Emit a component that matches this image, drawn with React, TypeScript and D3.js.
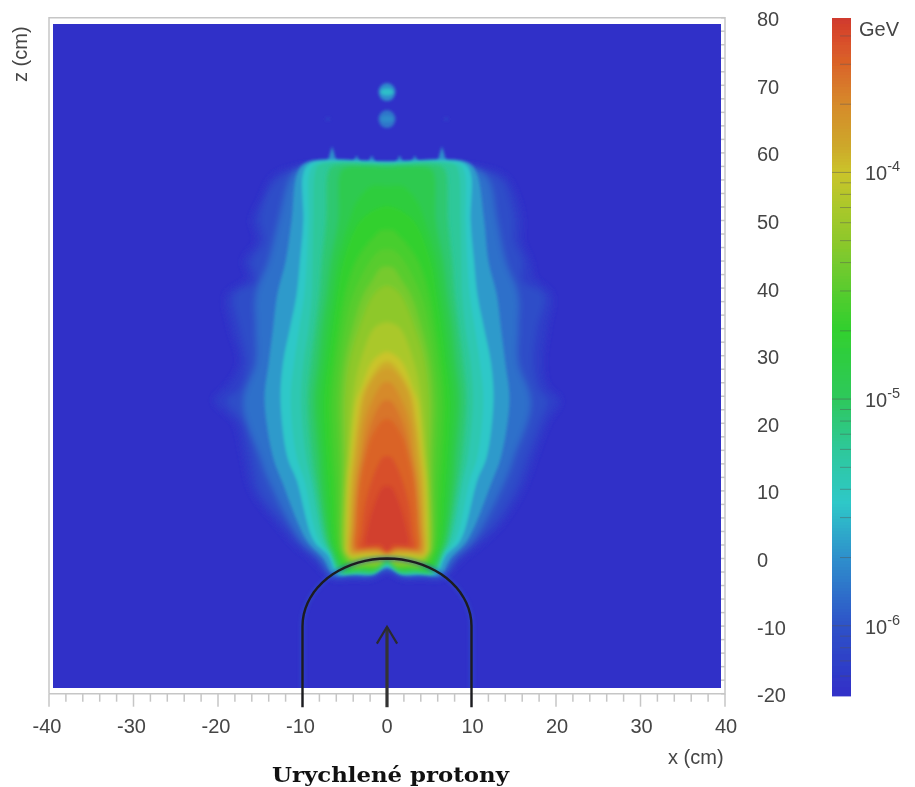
import React from "react";
import * as d3 from "d3";

// ---------- colour bar ----------
const cmapValues = [5e-7, 1e-6, 2e-6, 3.5e-6, 6e-6, 1e-5, 2e-5, 3e-5, 5e-5, 7e-5, 1e-4, 1.3e-4, 2e-4, 3e-4, 4e-4, 4.8e-4];
const cmapColors = ["#3030c8", "#2e52c8", "#2e90cc", "#2ec8c8", "#2ec89a", "#2ec85c", "#30d02e", "#58cc2e", "#8ec82c", "#aac82c", "#cbc42a", "#cda82a", "#d68a2c", "#da6428", "#d84a2a", "#cf3a2e"];
const colorDecades = [1e-6, 1e-5, 1e-4];
const colorMinors = [6e-7, 7e-7, 8e-7, 9e-7, 2e-6, 3e-6, 4e-6, 5e-6, 6e-6, 7e-6, 8e-6, 9e-6, 2e-5, 3e-5, 4e-5, 5e-5, 6e-5, 7e-5, 8e-5, 9e-5, 2e-4, 3e-4, 4e-4];

// ---------- axes ----------
const xTicks = [-40, -30, -20, -10, 0, 10, 20, 30, 40];
const zTicks = [-20, -10, 0, 10, 20, 30, 40, 50, 60, 70, 80];

// ---------- energy contours, [z, left half-width, right half-width] in cm ----------
type Row = [number, number, number];
const f0: Row[] = [[58, 10.5, 10.5], [56.5, 13.5, 14], [53, 15, 15.5], [50, 16, 16], [47, 15.5, 16], [44, 17, 17], [41.5, 16.5, 17.5], [39, 19, 19.5], [34, 18.5, 19], [29, 17.5, 18.5], [25.5, 19, 19], [23.4, 20.5, 20.5], [20, 18, 19], [15, 17, 17.5], [10, 16, 16], [5, 13, 13.5], [2, 11, 11], [0, 9, 9], [-3, 6.5, 6.5]];
const f1: Row[] = [[57.5, 10.5, 10.5], [56, 13, 13.5], [53, 14.5, 14.5], [50, 15, 15], [47, 14.5, 15], [44, 16, 16], [41, 15.5, 16], [39, 18, 18.5], [34, 17.4, 17.7], [29, 16.6, 17.3], [25, 17.5, 18], [23.4, 19, 19], [20, 17, 18], [15, 16, 16.5], [10, 15, 15], [5, 12, 12.5], [2, 10, 10], [0, 8, 8], [-2.6, 6.5, 6.5]];
const f2: Row[] = [[57.8, 10.3, 10.3], [56, 11.5, 12], [50, 12.8, 13], [44, 14, 14], [39, 15.5, 15.5], [34, 15.5, 15.5], [29, 15.5, 15.5], [23, 17, 17], [15, 15, 15], [11.6, 14, 14], [2.7, 10.2, 10.2], [0, 8, 8], [-2.5, 6.5, 6.5]];
const t1: Row[] = [[58.6, 9.5, 9.5], [57, 10.6, 10.6], [50, 11.3, 11.5], [44, 12, 12], [39, 13, 13], [34, 13.5, 13.5], [29, 14, 14], [23.4, 14.5, 14.5], [15, 13.5, 13.5], [11.6, 12.5, 12.5], [2.7, 9.5, 9.5], [0, 7.5, 7.5], [-2.4, 6.3, 6.3]];
const t2: Row[] = [[58.5, 9, 9], [57, 9.9, 9.9], [50, 9.9, 9.9], [44, 10.3, 10.3], [39, 10.7, 10.7], [34, 11.5, 11.5], [29, 12.3, 12.3], [23.4, 12.6, 12.6], [15, 11.8, 11.8], [11.6, 10.7, 10.7], [2.7, 8.7, 8.7], [0.5, 7, 7], [-2.3, 5.8, 5.8]];
const s0: Row[] = [[58.3, 8.6, 8.6], [57, 9.2, 9.2], [50, 9.3, 9.3], [44, 9.5, 9.5], [39, 9.8, 9.8], [34, 10.4, 10.4], [29, 11, 11], [23.4, 11.4, 11.4], [15, 10.7, 10.7], [11.6, 9.8, 9.8], [2.7, 8.1, 8.1], [0.5, 6.7, 6.7], [-2.2, 5.7, 5.7]];
const s1: Row[] = [[58.2, 8, 8], [57, 8.5, 8.5], [50, 8.7, 8.7], [44, 8.8, 8.8], [39, 8.9, 8.9], [34, 9.3, 9.3], [29, 9.9, 9.9], [23.4, 10.2, 10.2], [15, 9.6, 9.6], [11.6, 9, 9], [2.7, 7.5, 7.5], [0.5, 6.4, 6.4], [-2.1, 5.6, 5.6]];
const s2: Row[] = [[58, 6.5, 6.5], [57, 7, 7], [50, 7.2, 7.2], [44, 7.7, 7.7], [39, 8, 8], [34, 8.5, 8.5], [29, 9, 9], [23.4, 9.4, 9.4], [15, 8.9, 8.9], [11.6, 8.5, 8.5], [2.7, 7.2, 7.2], [1, 6.6, 6.6], [-2, 5.4, 5.4]];
const g0: Row[] = [[57.8, 5, 5], [57, 5.6, 5.6], [50, 5.8, 5.8], [44, 6.7, 6.7], [39, 7.2, 7.2], [34, 7.8, 7.8], [29, 8.2, 8.2], [23.4, 8.7, 8.7], [15, 8.2, 8.2], [11.6, 8, 8], [2.7, 7, 7], [1, 6.5, 6.5], [-0.5, 6, 6], [-1.9, 5.2, 5.2]];
const g05: Row[] = [[55, 2, 2], [53, 3.5, 3.5], [50, 4.5, 4.5], [44, 5.9, 5.9], [39, 6.5, 6.5], [34, 7.1, 7.1], [29, 7.6, 7.6], [23.4, 8.1, 8.1], [15, 7.7, 7.7], [11.6, 7.5, 7.5], [2.7, 6.7, 6.7], [1, 6.2, 6.2], [-1.7, 4.9, 4.9]];
const g1: Row[] = [[52, 0.8, 0.8], [50, 3.2, 3.2], [44, 5.2, 5.2], [39, 5.9, 5.9], [34, 6.5, 6.5], [29, 7, 7], [23.4, 7.5, 7.5], [15, 7.2, 7.2], [11.6, 7, 7], [2.7, 6.4, 6.4], [1, 6, 6], [-0.5, 5.5, 5.5], [-1.6, 4.6, 4.6]];
const g15: Row[] = [[48.5, 0.8, 0.8], [47, 2, 2], [44, 3.7, 3.7], [39, 5, 5], [34, 5.7, 5.7], [29, 6.3, 6.3], [23.4, 6.7, 6.7], [15, 6.5, 6.5], [11.6, 6.3, 6.3], [2.7, 6, 6], [1, 5.7, 5.7], [-1.4, 4.3, 4.3]];
const g2: Row[] = [[45.6, 0.8, 0.8], [44, 2, 2], [39, 4, 4], [34, 5, 5], [29, 5.6, 5.6], [23.4, 6, 6], [15, 5.8, 5.8], [11.6, 5.7, 5.7], [2.7, 5.6, 5.6], [1, 5.4, 5.4], [-0.3, 5, 5], [-1.3, 4, 4]];
const l05: Row[] = [[43, 0.7, 0.7], [41, 1.8, 1.8], [39, 2.8, 2.8], [34, 4.1, 4.1], [29, 5, 5], [23.4, 5.4, 5.4], [15, 5.3, 5.3], [11.6, 5.3, 5.3], [2.7, 5.4, 5.4], [1, 5.2, 5.2], [-1, 3.9, 3.9]];
const l1: Row[] = [[40.2, 0.5, 0.5], [39, 1.6, 1.6], [34, 3.3, 3.3], [29, 4.4, 4.4], [23.4, 4.9, 4.9], [15, 4.9, 4.9], [11.6, 5, 5], [2.7, 5.2, 5.2], [1, 5, 5], [-0.8, 3.8, 3.8]];
const l2: Row[] = [[34.8, 0.6, 0.6], [34, 1.6, 1.6], [29, 3.2, 3.2], [25, 3.9, 3.9], [15, 4.6, 4.6], [11.6, 4.8, 4.8], [2.7, 5, 5], [1, 4.9, 4.9], [0.1, 4.2, 4.2]];
const y1: Row[] = [[30.4, 0.5, 0.5], [29, 1.8, 1.8], [25, 3.1, 3.1], [23.4, 3.6, 3.6], [15, 4.3, 4.3], [11.6, 4.6, 4.6], [2.7, 4.8, 4.8], [1, 4.8, 4.8], [0.3, 4.4, 4.4]];
const y2: Row[] = [[29, 0.5, 0.5], [25, 2.7, 2.7], [20, 3.5, 3.5], [15, 4, 4], [11.6, 4.3, 4.3], [5, 4.5, 4.5], [0.6, 4.4, 4.4]];
const a1: Row[] = [[27.9, 0.6, 0.6], [25, 2.3, 2.3], [20, 3.2, 3.2], [15, 3.7, 3.7], [11.6, 4, 4], [5, 4.3, 4.3], [2.7, 4.4, 4.4], [0.8, 4.2, 4.2]];
const o1: Row[] = [[26, 0.5, 0.5], [23, 1.9, 1.9], [20, 2.7, 2.7], [15, 3.2, 3.2], [11.6, 3.6, 3.6], [5, 4, 4], [1.1, 4, 4]];
const o15: Row[] = [[23.3, 0.5, 0.5], [20, 1.9, 1.9], [15, 2.9, 2.9], [11.6, 3.4, 3.4], [5, 3.8, 3.8], [1.3, 3.8, 3.8]];
const o2: Row[] = [[20.5, 0.5, 0.5], [18, 1.8, 1.8], [15, 2.5, 2.5], [11.6, 3.1, 3.1], [5, 3.6, 3.6], [1.5, 3.6, 3.6]];
const r1: Row[] = [[15, 0.5, 0.5], [12, 1.7, 1.7], [8, 2.6, 2.6], [4, 3, 3], [1.5, 3.2, 3.2]];
const r2: Row[] = [[10.6, 0.5, 0.5], [8, 1.5, 1.5], [5, 2.2, 2.2], [2, 2.5, 2.5]];

// value in GeV, contour rows, z of the notch at the centre of the bottom edge
const fringeLevels: [number, Row[], number][] = [[6.5e-7, f0, -2], [9e-7, f1, -1.8], [1.4e-6, f2, -1.5]];
const edgeLevels: [number, Row[], number][] = [[2.2e-6, t1, -1.4], [3.5e-6, t2, -1.2], [4.6e-6, s0, -1], [6e-6, s1, -0.9]];
const coreLevels: [number, Row[], number][] = [
  [8.5e-6, s2, -0.7], [1.2e-5, g0, -0.5], [1.6e-5, g05, -0.4], [2e-5, g1, -0.3], [2.5e-5, g15, -0.2], [3e-5, g2, -0.1],
  [4e-5, l05, 0], [5e-5, l1, 0.1], [7e-5, l2, 0.3], [1e-4, y1, 0.35], [1.25e-4, y2, 0.45], [1.5e-4, a1, 0.5], [2e-4, o1, 0.6], [2.5e-4, o15, 0.65], [3e-4, o2, 0.7], [3.8e-4, r1, 0.8], [4.5e-4, r2, 1],
];

// small features above the shower
const spotZ = [69, 65];
const spotValues = [1.9e-6, 1.5e-6];
const spotCoreValues = [3.2e-6, 1.9e-6];
const spikeX = [-6.5, -3.6, -1.8, 1.5, 3.3, 6.5];
const spikeTop = [61, 59.6, 59.6, 59.6, 59.6, 61];
const faintX = [-7, 7];
const faintZ = [65, 65];

const xS = d3.scaleLinear().domain([-40, 40]).range([49, 725]);
const zS = d3.scaleLinear().domain([-20, 80]).range([693.7, 17.7]);
const cS = d3.scaleLog().domain([4.8e-4, 5e-7]).range([18, 694]);
const colorOf = d3.scaleLog<string>().domain(cmapValues).range(cmapColors).interpolate(d3.interpolateRgb);

const closed = d3.line<[number, number]>().x((d) => xS(d[0])).y((d) => zS(d[1])).curve(d3.curveCatmullRomClosed.alpha(0.5));
const open = d3.line<[number, number]>().x((d) => xS(d[0])).y((d) => zS(d[1]));

function contourPath(rows: Row[], notch: number) {
  const pts: [number, number][] = [[0, rows[0][0] + 0.15]];
  rows.forEach((r) => pts.push([r[2], r[0]]));
  const last = rows[rows.length - 1];
  const flat = last[0];
  pts.push([last[2] * 0.65, flat], [last[2] * 0.28, flat], [0, notch], [-last[1] * 0.28, flat], [-last[1] * 0.65, flat]);
  rows.slice().reverse().forEach((r) => pts.push([-r[1], r[0]]));
  return closed(pts) as string;
}

const arcPts: [number, number][] = [[-10, -22], ...d3.range(180, -1, -5).map((a) => [10 * Math.cos((a * Math.PI) / 180), -10 + 10 * Math.sin((a * Math.PI) / 180)] as [number, number]), [10, -22]];

const TXT = "#454545";
const SANS = "'Liberation Sans', Arial, sans-serif";
const LABEL = 20;

export default function App() {
  const bands = d3.range(18, 694, 3);
  return (
    <svg width={915} height={787} style={{ position: "absolute", left: 0, top: 0, background: "#fff" }}>
      <defs>
        <clipPath id="plot"><rect x={53} y={24} width={668} height={664} /></clipPath>
        <filter id="blurOuter" x="-20%" y="-20%" width="140%" height="140%"><feGaussianBlur stdDeviation={3.4} /></filter>
        <filter id="blurEdge" x="-20%" y="-20%" width="140%" height="140%"><feGaussianBlur stdDeviation={1.8} /></filter>
        <filter id="blurCore" x="-20%" y="-20%" width="140%" height="140%"><feGaussianBlur stdDeviation={2.2} /></filter>
        <filter id="blurSpot" x="-50%" y="-50%" width="200%" height="200%"><feGaussianBlur stdDeviation={1.4} /></filter>
        <filter id="soft" x="-5%" y="-5%" width="110%" height="110%"><feGaussianBlur stdDeviation={0.45} /></filter>
      </defs>

      {/* frame */}
      <g stroke="#c6c6c6" strokeWidth={1.5} fill="none">
        <path d={`M${xS(-40)},${zS(-20)}V${zS(80)}H${xS(40)}V${zS(-20)}H${xS(-40)}`} />
        {d3.range(-40, 41, 2).map((v) => (
          <line key={v} x1={xS(v)} x2={xS(v)} y1={zS(-20)} y2={zS(-20) + (v % 10 === 0 ? 13 : 8)} />
        ))}
        {d3.range(-20, 81, 2).map((v) => (
          <line key={v} x1={xS(40)} x2={xS(40) - 4} y1={zS(v)} y2={zS(v)} />
        ))}
      </g>

      {/* field */}
      <rect x={53} y={24} width={668} height={664} fill="#3030c8" />
      <g clipPath="url(#plot)">
        <g filter="url(#blurOuter)">
          {fringeLevels.map(([v, rows, n], i) => (
            <path key={i} d={contourPath(rows, n)} fill={colorOf(v)} />
          ))}
        </g>
        <g filter="url(#blurSpot)">
          {spikeX.map((x, i) => (
            <path key={i} d={open([[x - 0.7, 58], [x, spikeTop[i]], [x + 0.7, 58]]) + "Z"} fill={colorOf(2e-6)} />
          ))}
          {spotZ.map((z, i) => (
            <g key={i}>
              <ellipse cx={xS(0)} cy={zS(z)} rx={8.5} ry={9} fill={colorOf(spotValues[i])} />
              <ellipse cx={xS(0)} cy={zS(z)} rx={6.5} ry={3.5} fill={colorOf(spotCoreValues[i])} />
            </g>
          ))}
          {faintX.map((x, i) => (
            <ellipse key={i} cx={xS(x)} cy={zS(faintZ[i])} rx={2.5} ry={2} fill={colorOf(7e-7)} />
          ))}
        </g>
        <g filter="url(#blurEdge)">
          {edgeLevels.map(([v, rows, n], i) => (
            <path key={i} d={contourPath(rows, n)} fill={colorOf(v)} />
          ))}
        </g>
        <g filter="url(#blurCore)">
          {coreLevels.map(([v, rows, n], i) => (
            <path key={i} d={contourPath(rows, n)} fill={colorOf(v)} />
          ))}
        </g>
        <path d={open(arcPts) as string} fill="none" stroke={colorOf(1e-6)} strokeWidth={6} opacity={0.4} filter="url(#blurSpot)" />
      </g>

      {/* target outline and beam arrow */}
      <path d={open(arcPts) as string} fill="none" stroke="#1c1c20" strokeWidth={2.4} />
      <line x1={xS(0)} x2={xS(0)} y1={zS(-10.2)} y2={zS(-22)} stroke="#333" strokeWidth={3.2} />
      <path d={open([[-1.2, -12.6], [0, -10.1], [1.2, -12.6]]) as string} fill="none" stroke="#2a2a30" strokeWidth={2.2} />

      {/* axis labels */}
      <g filter="url(#soft)" fontFamily={SANS} fill={TXT}>
        {xTicks.map((v) => (
          <text key={v} x={xS(v) + (v < 0 ? -2 : v > 0 ? 1 : 0)} y={733} fontSize={LABEL} textAnchor="middle">{v}</text>
        ))}
        {zTicks.map((v) => (
          <text key={v} x={757} y={zS(v) + 8.5} fontSize={LABEL}>{v}</text>
        ))}
        <text x={668} y={764} fontSize={LABEL}>x (cm)</text>
        <text transform="translate(27,82) rotate(-90)" fontSize={LABEL}>z (cm)</text>

        {/* colour bar */}
        {bands.map((y) => (
          <rect key={y} x={832} y={y} width={19} height={3.4} fill={colorOf(cS.invert(y + 1.5))} />
        ))}
        {colorMinors.map((v) => (
          <line key={v} x1={840} x2={851} y1={cS(v)} y2={cS(v)} stroke="#555" strokeOpacity={0.45} />
        ))}
        {colorDecades.map((v) => (
          <line key={v} x1={832} x2={851} y1={cS(v)} y2={cS(v)} stroke="#555" strokeOpacity={0.5} />
        ))}
        <text x={859} y={36} fontSize={LABEL}>GeV</text>
        {colorDecades.map((v) => (
          <text key={v} x={865} y={cS(v) + 8} fontSize={LABEL}>
            10<tspan fontSize={14.5} dy={-9}>{`-${Math.round(-Math.log10(v))}`}</tspan>
          </text>
        ))}
      </g>

      <text x={272} y={782} fontFamily="'DejaVu Serif', serif" fontWeight="bold" fontSize={21} fill="#111" textLength={237} lengthAdjust="spacingAndGlyphs">Urychlené protony</text>
    </svg>
  );
}
